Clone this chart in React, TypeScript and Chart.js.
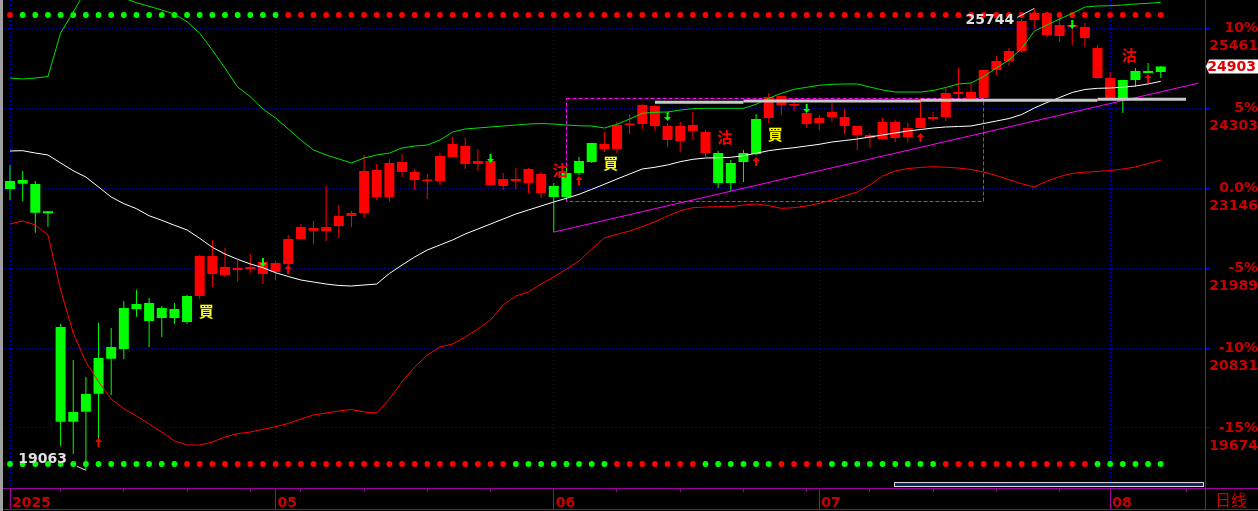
import React, { useEffect, useRef } from 'react';
import { Chart, registerables } from 'chart.js';

Chart.register(...registerables);

// ---------------- data ----------------
const basePrice = 23146;
const axisMax = 25866;
const axisMin = 18806;
const pctLevels = [10, 5, 0, -5, -10, -15];
const pctLabels = ['10%', '5%', '0.0%', '-5%', '-10%', '-15%'];
const monthStarts = [0, 21, 43, 64, 87];
const monthLabels = ['2025', '05', '06', '07', '08'];
const weekTicks = [4, 9, 14, 19, 23, 28, 33, 38, 48, 53, 58, 63, 68, 73, 78, 83, 93];
const slotCount = 95; // 92 sessions + 3 blank slots on the right

const opens = [
  23132, 23208, 22789, 22780, 19765, 19765, 19910, 20170, 20677, 20817,
  21396, 21222, 21266, 21266, 21208, 22162, 22162, 22003, 21989, 22003,
  22076, 22061, 22408, 22582, 22567, 22582, 22741, 22784, 23392, 23407,
  23508, 23522, 23378, 23262, 23609, 23783, 23754, 23537, 23537, 23276,
  23276, 23421, 23349, 23016, 23016, 23363, 23522, 23783, 24057, 24072,
  24347, 24332, 24043, 24043, 24057, 23956, 23218, 23218, 23522, 23638,
  24463, 24477, 24354, 24231, 24159, 24246, 24173, 24043, 23913, 24101,
  24101, 24014, 24159, 24173, 24520, 24535, 24535, 24853, 24983, 25128,
  25562, 25678, 25678, 25504, 25504, 25475, 25171, 24737, 24448, 24708,
  24810, 24824,
];
const highs = [
  23479, 23392, 23247, 22813, 21179, 20658, 20412, 21198, 21121, 21511,
  21671, 21555, 21439, 21483, 21598, 22177, 22394, 22278, 22105, 22191,
  22090, 22090, 22466, 22625, 22669, 23175, 22900, 22813, 23624, 23493,
  23566, 23638, 23421, 23349, 23652, 23884, 23869, 23710, 23540, 23363,
  23435, 23435, 23378, 23218, 23435, 23595, 23800, 23956, 24101, 24217,
  24361, 24347, 24086, 24101, 24246, 23985, 23681, 23551, 23696, 24217,
  24520, 24480, 24405, 24235, 24202, 24376, 24289, 24046, 23942, 24159,
  24130, 24086, 24448, 24246, 24593, 24882, 24665, 24856, 25056, 25171,
  25591, 25744, 25680, 25605, 25576, 25533, 25215, 24824, 24711, 24882,
  24954, 24911,
];
const lows = [
  22973, 22958, 22500, 22586, 19414, 19298, 19063, 19501, 20152, 20672,
  21284, 20846, 20991, 21179, 21179, 21540, 21714, 21859, 21791, 21917,
  21757, 21815, 21917, 22394, 22336, 22379, 22423, 22582, 22712, 22973,
  22944, 23305, 23117, 22987, 23190, 23580, 23421, 23392, 23175, 23117,
  23132, 23074, 23001, 22510, 22973, 23334, 23508, 23667, 23652, 23927,
  24000, 23971, 23739, 23667, 23841, 23595, 23146, 23103, 23233, 23624,
  24086, 24202, 24260, 24014, 23985, 24101, 23927, 23696, 23725, 23841,
  23812, 23812, 24010, 24115, 24115, 24448, 24430, 24445, 24781, 24911,
  25099, 25446, 25331, 25258, 25215, 25186, 24723, 24445, 24231, 24607,
  24806, 24737,
];
const closes = [
  23247, 23262, 23204, 22809, 21135, 19906, 20166, 20687, 20846, 21410,
  21468, 21483, 21410, 21396, 21584, 21584, 21902, 21888, 21960, 21974,
  21902, 21931, 22047, 22408, 22528, 22524, 22596, 22741, 22784, 23016,
  23016, 23378, 23262, 23247, 23247, 23595, 23493, 23493, 23190, 23175,
  23247, 23218, 23074, 23175, 23363, 23537, 23797, 23710, 23710, 24057,
  24072, 24043, 23841, 23826, 23971, 23652, 23652, 23508, 23652, 24144,
  24159, 24347, 24340, 24072, 24086, 24173, 24043, 23913, 23869, 23855,
  23869, 23884, 24014, 24144, 24173, 24506, 24434, 24448, 24853, 24983,
  25128, 25576, 25359, 25345, 25475, 25316, 24737, 24448, 24708, 24839,
  24839, 24903,
];

const upperBand = [
  24737, 24723, 24737, 24759, 25388, 25692, 26010, 26097, 26039, 25895,
  25827, 25775, 25721, 25663, 25552, 25384, 25142, 24882, 24607, 24467,
  24289, 24159, 24000, 23841, 23696, 23624, 23566, 23508, 23580, 23624,
  23652, 23725, 23754, 23768, 23841, 23956, 24000, 24014, 24029, 24043,
  24057, 24072, 24079, 24072, 24057, 24047, 24043, 24014, 24068, 24144,
  24227, 24241, 24246, 24274, 24293, 24299, 24299, 24299, 24299, 24357,
  24444, 24516, 24574, 24603, 24632, 24646, 24651, 24651, 24607, 24564,
  24535, 24535, 24535, 24557, 24600, 24651, 24665, 24759, 24882, 24998,
  25164, 25417, 25504, 25591, 25673, 25764, 25779, 25783, 25793, 25808,
  25818, 25832,
];
const midBand = [
  23681, 23686, 23652, 23624, 23508, 23396, 23305, 23161, 23016, 22919,
  22847, 22745, 22679, 22607, 22539, 22418, 22288, 22191, 22115, 22047,
  21993, 21921, 21866, 21815, 21786, 21757, 21736, 21728, 21743, 21757,
  21909, 22032, 22148, 22249, 22322, 22394, 22481, 22553, 22625, 22698,
  22770, 22828, 22886, 22944, 22997, 23055, 23127, 23200, 23276, 23349,
  23421, 23446, 23479, 23527, 23561, 23580, 23584, 23590, 23613, 23648,
  23686, 23710, 23729, 23754, 23778, 23812, 23833, 23855, 23884, 23913,
  23942, 23971, 23992, 24014, 24029, 24036, 24043, 24079, 24115, 24151,
  24209, 24303, 24383, 24455, 24528, 24571, 24588, 24593, 24604, 24622,
  24651, 24690,
];
const lowerBand = [
  22625, 22669, 22611, 22466, 21671, 21048, 20629, 20344, 20094, 19953,
  19848, 19732, 19616, 19486, 19428, 19428, 19472, 19544, 19592, 19616,
  19655, 19693, 19739, 19804, 19862, 19891, 19920, 19942, 19906, 19891,
  20094, 20340, 20557, 20730, 20846, 20889, 20991, 21106, 21237, 21454,
  21584, 21642, 21757, 21859, 21974, 22090, 22264, 22423, 22476, 22524,
  22586, 22659, 22741, 22818, 22861, 22871, 22876, 22876, 22900, 22915,
  22890, 22852, 22861, 22886, 22925, 22972, 23030, 23088, 23189, 23320,
  23392, 23428, 23443, 23454, 23446, 23435, 23414, 23377, 23327, 23266,
  23208, 23161, 23247, 23312, 23357, 23375, 23385, 23399, 23421, 23450,
  23498, 23551,
];

// signal dots: 1 = red, 0 = green
const topSignal = [
  1, 0, 0, 0, 0, 0, 0, 0, 0, 0, 0, 0, 0, 0, 0, 0, 0, 0, 0, 0,
  0, 0, 1, 1, 1, 1, 1, 1, 1, 1, 1, 1, 1, 1, 1, 1, 1, 1, 1, 1,
  1, 1, 1, 1, 1, 1, 1, 1, 1, 1, 1, 1, 1, 1, 1, 1, 1, 1, 1, 1,
  1, 1, 1, 1, 1, 1, 1, 1, 1, 1, 1, 1, 1, 1, 1, 1, 1, 1, 1, 1,
  1, 1, 1, 1, 1, 1, 1, 1, 1, 1, 1, 1,
];
const bottomSignal = [
  0, 0, 0, 0, 0, 0, 0, 0, 0, 0, 0, 0, 0, 0, 1, 1, 1, 1, 1, 1,
  1, 1, 1, 1, 1, 1, 1, 1, 1, 1, 1, 1, 1, 1, 1, 1, 1, 1, 1, 1,
  0, 0, 0, 0, 0, 0, 0, 0, 1, 1, 1, 1, 1, 1, 1, 0, 0, 0, 0, 0,
  0, 1, 1, 1, 1, 0, 0, 0, 0, 0, 0, 0, 0, 0, 1, 1, 1, 1, 1, 1,
  1, 1, 1, 1, 1, 1, 0, 0, 0, 0, 0, 0,
];

const upArrowIdx = [7, 22, 45, 59, 72, 90];
const upArrowTips = [19530, 22032, 23320, 23595, 23942, 24795];
const downArrowIdx = [20, 38, 52, 63, 84];
const downArrowTips = [22003, 23508, 24115, 24231, 25446];
const buyIdx = [15, 47, 60];
const buyLevels = [21367, 23508, 23927];
const sellIdx = [43, 56, 88];
const sellLevels = [23407, 23884, 25070];

const trendIdx = [43, 94];
const trendLevels = [22508, 24664];
const supportFrom = [51, 58, 72, 86];
const supportTo = [58, 72, 86, 93];
const supportLevels = [24386, 24405, 24415, 24429];
const boxIdx = [44, 77];
const boxLevels = [24444, 22954];

// ---------------- styles ----------------
const GREEN = '#00ff00';
const RED = '#ff0000';
const AXIS = '#a000a0';
const GRID = '#0000e6';
const LABEL = '#c80000';
const NUM_FONT = 'bold 14px "DejaVu Sans", sans-serif';
const numFont = { family: '"DejaVu Sans", sans-serif', size: 14, weight: 'bold', lineHeight: '18px' };

const priceLevels = pctLevels.map((p) => basePrice * (1 + p / 100));

function arrow(ctx: CanvasRenderingContext2D, x: number, yt: number, dir: number, color: string) {
  // dir = 1 : up arrow with tip at yt; dir = -1 : down arrow with tip at yt
  ctx.fillStyle = color;
  ctx.beginPath();
  ctx.moveTo(x, yt);
  ctx.lineTo(x + 3.5, yt + 4 * dir);
  ctx.lineTo(x + 1, yt + 4 * dir);
  ctx.lineTo(x + 1, yt + 9 * dir);
  ctx.lineTo(x - 1, yt + 9 * dir);
  ctx.lineTo(x - 1, yt + 4 * dir);
  ctx.lineTo(x - 3.5, yt + 4 * dir);
  ctx.closePath();
  ctx.fill();
}

const decorPlugin = {
  id: 'decor',
  beforeDatasetsDraw(chart: any) {
    const { ctx, chartArea: a, scales } = chart;
    const xs = scales.x;
    const ys = scales.y;
    ctx.save();
    // signal dot rows
    const dot = (x: number, y: number, c: string) => {
      ctx.fillStyle = c;
      ctx.beginPath();
      ctx.arc(x, y, 2.9, 0, Math.PI * 2);
      ctx.fill();
    };
    topSignal.forEach((s, i) => dot(xs.getPixelForValue(i), a.top + 15, s ? RED : GREEN));
    bottomSignal.forEach((s, i) => dot(xs.getPixelForValue(i), a.bottom - 24, s ? RED : GREEN));
    // dashed consolidation box
    const bx1 = xs.getPixelForValue(boxIdx[0]);
    const bx2 = xs.getPixelForValue(boxIdx[1]);
    const by1 = ys.getPixelForValue(boxLevels[0]);
    const by2 = ys.getPixelForValue(boxLevels[1]);
    ctx.strokeStyle = '#ff00ff';
    ctx.lineWidth = 1;
    ctx.setLineDash([4, 2]);
    ctx.strokeRect(Math.round(bx1) + 0.5, Math.round(by1) + 0.5, Math.round(bx2 - bx1), Math.round(by2 - by1));
    ctx.setLineDash([]);
    ctx.restore();
  },
  afterDatasetsDraw(chart: any) {
    const { ctx, scales } = chart;
    const xs = scales.x;
    const ys = scales.y;
    ctx.save();
    upArrowIdx.forEach((i, k) => arrow(ctx, xs.getPixelForValue(i), ys.getPixelForValue(upArrowTips[k]), 1, RED));
    downArrowIdx.forEach((i, k) => arrow(ctx, xs.getPixelForValue(i), ys.getPixelForValue(downArrowTips[k]), -1, GREEN));

    ctx.font = 'bold 15px "Noto Sans CJK TC", sans-serif';
    ctx.textAlign = 'left';
    ctx.textBaseline = 'middle';
    ctx.fillStyle = '#ffff00';
    buyIdx.forEach((i, k) => ctx.fillText('買', xs.getPixelForValue(i) - 1, ys.getPixelForValue(buyLevels[k])));
    ctx.fillStyle = RED;
    sellIdx.forEach((i, k) => ctx.fillText('沽', xs.getPixelForValue(i) - 1, ys.getPixelForValue(sellLevels[k])));

    // highest / lowest annotations
    const hi = Math.max(...highs);
    const lo = Math.min(...lows);
    const hx = xs.getPixelForValue(highs.indexOf(hi));
    const hy = ys.getPixelForValue(hi);
    const lx = xs.getPixelForValue(lows.indexOf(lo));
    const ly = ys.getPixelForValue(lo);
    ctx.strokeStyle = '#e0e0e0';
    ctx.lineWidth = 1;
    ctx.beginPath();
    ctx.moveTo(hx - 17, hy + 9);
    ctx.lineTo(hx, hy);
    ctx.moveTo(lx - 9, ly - 4);
    ctx.lineTo(lx, ly);
    ctx.stroke();
    ctx.font = NUM_FONT;
    ctx.fillStyle = '#e0e0e0';
    ctx.textAlign = 'right';
    ctx.fillText(String(hi), hx - 20, hy + 12);
    ctx.fillText(String(lo), lx - 19, ly - 11);
    ctx.restore();
  },
  afterDraw(chart: any) {
    const { ctx, chartArea: a, scales, width, height } = chart;
    const ys = scales.y;
    const axisX = Math.round(ys.left);
    ctx.save();
    // left frame strip
    ctx.fillStyle = '#a0a0a0';
    ctx.fillRect(0, 0, 3, height);
    // axis lines extended into the corner
    ctx.fillStyle = AXIS;
    ctx.fillRect(axisX, Math.round(a.bottom), width - axisX, 1);
    ctx.fillRect(axisX, Math.round(a.bottom), 1, height - Math.round(a.bottom) - 1);
    // bottom red rule
    ctx.fillStyle = LABEL;
    ctx.fillRect(3, height - 2, width - 3, 1);
    // scroll bar
    ctx.fillStyle = '#0c2660';
    ctx.fillRect(894, a.bottom - 6, axisX - 895, 5);
    ctx.strokeStyle = '#d8d8d8';
    ctx.lineWidth = 1;
    ctx.strokeRect(894.5, a.bottom - 5.5, axisX - 896, 4);
    // period label
    ctx.font = '16px "Noto Sans CJK SC", sans-serif';
    ctx.fillStyle = LABEL;
    ctx.textAlign = 'center';
    ctx.textBaseline = 'middle';
    ctx.fillText('日线', axisX + 26, a.bottom + 12);
    // last price tag
    const last = closes[closes.length - 1];
    const yc = ys.getPixelForValue(last);
    ctx.fillStyle = '#ffffff';
    ctx.beginPath();
    ctx.moveTo(axisX + 1, yc);
    ctx.lineTo(axisX + 4, yc - 7);
    ctx.lineTo(width, yc - 7);
    ctx.lineTo(width, yc + 7);
    ctx.lineTo(axisX + 4, yc + 7);
    ctx.closePath();
    ctx.fill();
    ctx.font = NUM_FONT;
    ctx.fillStyle = '#e00000';
    ctx.textAlign = 'right';
    ctx.fillText(String(last), width - 2, yc + 0.5);
    ctx.restore();
  },
};

export default function App() {
  const ref = useRef<HTMLCanvasElement | null>(null);

  useEffect(() => {
    document.body.style.margin = '0';
    document.body.style.background = '#000';
    const canvas = ref.current;
    if (!canvas) return;

    const measure = document.createElement('canvas').getContext('2d')!;
    measure.font = NUM_FONT;
    const allLabels = priceLevels.flatMap((v, i) => [pctLabels[i], String(Math.round(v))]);
    const widest = Math.max(...allLabels.map((t) => measure.measureText(t).width));
    const axisWidth = 53;
    const yTickLen = 5;
    const yPad = axisWidth - 2 - yTickLen - widest;

    const labels = Array.from({ length: slotCount }, (_, i) => `S${i + 1}`);
    const candleColors = closes.map((c, i) => (c >= opens[i] ? GREEN : RED));

    const trendData: (number | null)[] = labels.map(() => null);
    trendIdx.forEach((i, k) => (trendData[i] = trendLevels[k]));

    const supportSets = supportLevels.map((lvl, k) => {
      const d: (number | null)[] = labels.map(() => null);
      d[supportFrom[k]] = lvl;
      d[supportTo[k]] = lvl;
      return {
        type: 'line',
        data: d,
        borderColor: '#c8c8c8',
        borderWidth: 3,
        borderCapStyle: 'butt',
        pointRadius: 0,
        spanGaps: true,
        order: 0,
      };
    });

    const lineBase = { type: 'line', pointRadius: 0, borderWidth: 1, tension: 0, fill: false };

    const chart = new Chart(canvas, {
      type: 'bar',
      data: {
        labels,
        datasets: [
          ...supportSets,
          { ...lineBase, data: trendData, borderColor: '#ff00ff', spanGaps: true, order: 0 },
          { ...lineBase, data: upperBand, borderColor: '#00e000', order: 1 },
          { ...lineBase, data: midBand, borderColor: '#ffffff', order: 1 },
          { ...lineBase, data: lowerBand, borderColor: '#ff0000', order: 1 },
          {
            type: 'bar',
            data: opens.map((o, i) => [o, closes[i]]),
            backgroundColor: candleColors,
            barThickness: 10,
            minBarLength: 1.5,
            grouped: false,
            inflateAmount: 0,
            borderWidth: 0,
            order: 2,
          },
          {
            type: 'bar',
            data: lows.map((l, i) => [l, highs[i]]),
            backgroundColor: candleColors,
            barThickness: 1,
            grouped: false,
            inflateAmount: 0,
            borderWidth: 0,
            order: 3,
          },
        ] as any,
      },
      options: {
        responsive: false,
        animation: false,
        devicePixelRatio: 1,
        events: [],
        layout: { padding: { left: 3.7, top: 0, right: 0, bottom: 0 } },
        plugins: { legend: { display: false }, tooltip: { enabled: false } },
        scales: {
          x: {
            type: 'category',
            offset: true,
            position: 'bottom',
            grid: {
              offset: false,
              lineWidth: 1,
              color: (c: any) => (monthStarts.includes(c.index) ? GRID : 'transparent'),
              drawTicks: true,
              tickLength: 21,
              tickWidth: 1,
              tickColor: (c: any) =>
                monthStarts.includes(c.index) || weekTicks.includes(c.index) ? AXIS : 'transparent',
              tickBorderDash: (c: any) => (weekTicks.includes(c.index) ? [3, 40] : []),
            },
            border: { color: AXIS, width: 1, dash: [1, 3] },
            ticks: {
              autoSkip: false,
              maxRotation: 0,
              minRotation: 0,
              align: 'start',
              labelOffset: 2,
              padding: -15,
              color: LABEL,
              font: numFont,
              callback: (_v: any, i: number) => {
                const k = monthStarts.indexOf(i);
                return k >= 0 ? monthLabels[k] : '';
              },
            },
            afterFit: (s: any) => {
              s.height = 23;
              s.paddingLeft = 0;
              s.paddingRight = 0;
            },
          },
          y: {
            type: 'linear',
            position: 'right',
            min: axisMin,
            max: axisMax,
            afterBuildTicks: (s: any) => {
              s.ticks = priceLevels.map((v) => ({ value: v }));
            },
            afterFit: (s: any) => {
              s.width = axisWidth;
              s.paddingTop = 0;
              s.paddingBottom = 0;
            },
            grid: {
              color: GRID,
              lineWidth: 1,
              drawTicks: true,
              tickLength: yTickLen,
              tickColor: GRID,
              tickBorderDash: [],
            },
            border: { color: AXIS, width: 1, dash: [1, 3] },
            ticks: {
              color: LABEL,
              font: numFont,
              crossAlign: 'far',
              padding: yPad,
              labelOffset: 9.5,
              callback: (v: any, i: number) => [pctLabels[i], String(Math.round(Number(v)))],
            },
          },
        },
      } as any,
      plugins: [decorPlugin],
    });

    return () => chart.destroy();
  }, []);

  return (
    <div style={{ position: 'fixed', left: 0, top: 0, width: 1258, height: 511, background: '#000' }}>
      <canvas ref={ref} width={1258} height={511} style={{ display: 'block' }} />
    </div>
  );
}
